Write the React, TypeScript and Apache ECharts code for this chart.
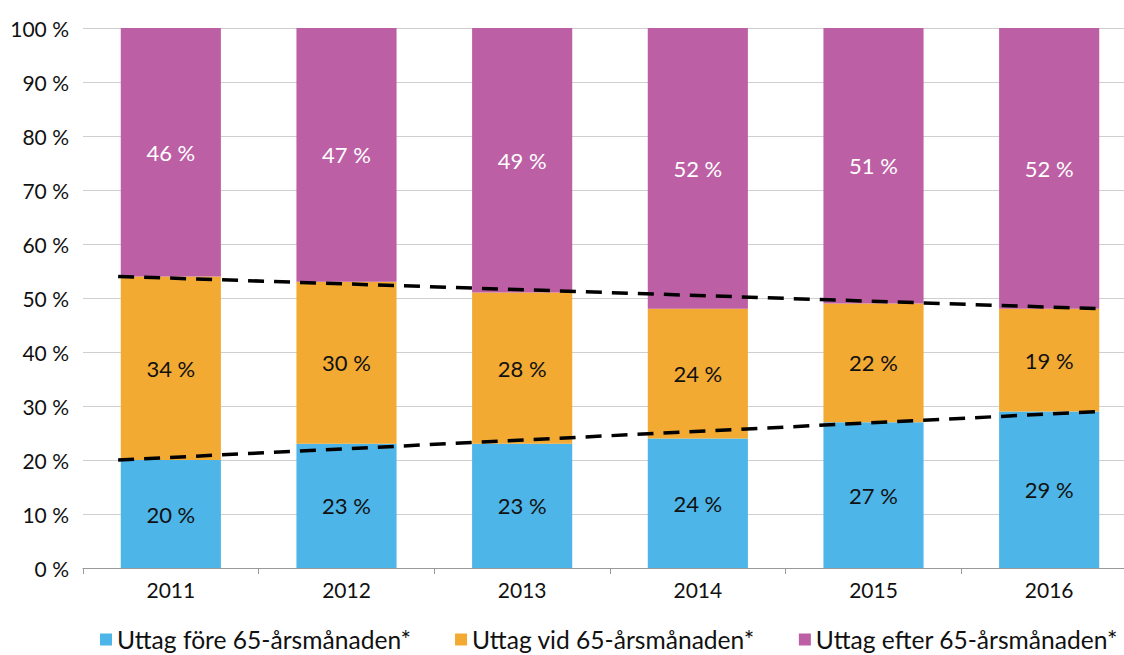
import React, { useEffect, useRef } from "react";
import * as echarts from "echarts";

const years = ["2011", "2012", "2013", "2014", "2015", "2016"];
const fore = [20, 23, 23, 24, 27, 29];
const vid = [34, 30, 28, 24, 22, 19];
const efter = [46, 47, 49, 52, 51, 52];
const seriesNames = [
  "Uttag före 65-årsmånaden*",
  "Uttag vid 65-årsmånaden*",
  "Uttag efter 65-årsmånaden*",
];
const colors = ["#4db5e8", "#f2aa33", "#bd5fa5"];
const FONT = "Lato";

export default function App() {
  const ref = useRef<HTMLDivElement>(null);
  useEffect(() => {
    if (!ref.current) return;
    const chart = echarts.init(ref.current, null, { renderer: "svg" });
    const n = years.length;
    const ext = 0.3;
    const lowerStart = fore[0];
    const lowerEnd = fore[n - 1];
    const upperStart = fore[0] + vid[0];
    const upperEnd = fore[n - 1] + vid[n - 1];
    const label = (color: string) => ({
      show: true,
      position: "inside",
      color,
      fontFamily: FONT,
      fontSize: 22,
      formatter: (p: any) => `${p.value} %`,
    });
    chart.setOption({
      animation: false,
      textStyle: { fontFamily: FONT },
      grid: { left: 83, top: 28, width: 1054, height: 540, outerBoundsMode: "none", containLabel: false },
      legend: {
        bottom: 3,
        left: 100,
        width: 1200,
        padding: 0,
        itemWidth: 12,
        itemHeight: 12,
        itemGap: 44,
        icon: "rect",
        textStyle: { fontFamily: FONT, fontSize: 24.6, color: "#111" },
        data: seriesNames,
      },
      xAxis: [
        {
          type: "category",
          data: years,
          axisLine: { lineStyle: { color: "#999", width: 1 } },
          axisTick: { show: true, alignWithLabel: false, length: 6, lineStyle: { color: "#999" } },
          axisLabel: { color: "#111", fontFamily: FONT, fontSize: 21, margin: 11 },
        },
        { type: "value", min: 0, max: n, show: false },
      ],
      yAxis: {
        type: "value",
        min: 0,
        max: 100,
        interval: 10,
        axisLine: { show: false },
        axisTick: { show: false },
        splitLine: { lineStyle: { color: "#cfcfcf", width: 1 } },
        axisLabel: {
          color: "#111",
          fontFamily: FONT,
          fontSize: 21,
          margin: 14,
          formatter: (v: number) => `${v} %`,
        },
      },
      series: [
        {
          name: seriesNames[0],
          type: "bar",
          stack: "a",
          data: fore,
          barWidth: "57%",
          itemStyle: { color: colors[0] },
          label: label("#111"),
        },
        {
          name: seriesNames[1],
          type: "bar",
          stack: "a",
          data: vid,
          itemStyle: { color: colors[1] },
          label: label("#111"),
        },
        {
          name: seriesNames[2],
          type: "bar",
          stack: "a",
          data: efter,
          itemStyle: { color: colors[2] },
          label: label("#fff"),
        },
        {
          type: "line",
          xAxisIndex: 1,
          data: [
            [0.5 - ext, upperStart],
            [n - 0.5 + ext, upperEnd],
          ],
          symbol: "none",
          lineStyle: { color: "#000", width: 3.5, type: [16, 10] },
          silent: true,
          z: 5,
        },
        {
          type: "line",
          xAxisIndex: 1,
          data: [
            [0.5 - ext, lowerStart],
            [n - 0.5 + ext, lowerEnd],
          ],
          symbol: "none",
          lineStyle: { color: "#000", width: 3.5, type: [16, 10] },
          silent: true,
          z: 5,
        },
      ],
    });
    return () => chart.dispose();
  }, []);
  return (
    <div
      ref={ref}
      style={{ position: "absolute", left: 0, top: 0, width: 1124, height: 655 }}
    />
  );
}
